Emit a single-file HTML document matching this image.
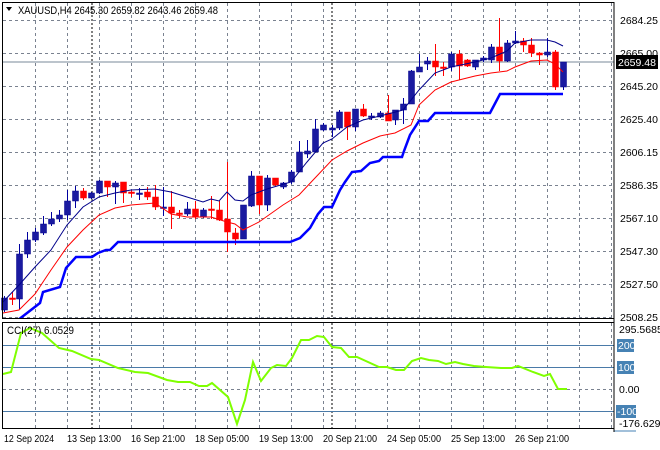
<!DOCTYPE html>
<html><head><meta charset="utf-8"><style>
body{margin:0;background:#fff;}
svg{display:block;font-family:"Liberation Sans",sans-serif;}
</style></head><body>
<svg id="s" width="660" height="450" xmlns="http://www.w3.org/2000/svg">
<rect width="660" height="450" fill="#fff"/>
<g id="grid" stroke="#7a8290" stroke-dasharray="3,3" stroke-width="1"></g>
<line x1="92" y1="3" x2="92" y2="428" stroke="#000" stroke-dasharray="2,2"/>
<line x1="332" y1="3" x2="332" y2="428" stroke="#000" stroke-dasharray="2,2"/>
<g stroke="#4a7aa8" stroke-width="1">
<line x1="3" y1="345.5" x2="614" y2="345.5"/>
<line x1="3" y1="367.5" x2="614" y2="367.5"/>
<line x1="3" y1="411.5" x2="614" y2="411.5"/>
</g>
<line x1="3" y1="389.5" x2="614" y2="389.5" stroke="#7a8290" stroke-dasharray="3,3"/>
<line x1="3" y1="62" x2="614" y2="62" stroke="#7a8a9a" stroke-width="1"/>
<g id="cdl"></g>
<polyline id="ma1" fill="none" stroke="#00008b" stroke-width="1"/>
<polyline id="ma2" fill="none" stroke="#ff0000" stroke-width="1"/>
<polyline id="ma3" fill="none" stroke="#0000ff" stroke-width="2.5"/>
<polyline id="cci" fill="none" stroke="#7fff00" stroke-width="2"/>
<rect x="0" y="318" width="660" height="4" fill="#fff"/>
<rect x="2.5" y="2.5" width="611.5" height="316" fill="none" stroke="#000"/>
<rect x="2.5" y="322.5" width="611.5" height="106" fill="none" stroke="#000"/>
<g font-size="11" fill="#000">
<text x="18" y="14" textLength="200" lengthAdjust="spacingAndGlyphs">XAUUSD,H4  2645.30 2659.82 2643.46 2659.48</text>
<path d="M6 7 L12 7 L9 11 Z" fill="#000"/>
<text x="7" y="334" textLength="67" lengthAdjust="spacingAndGlyphs">CCI(27) 6.0529</text>
</g>
<g font-size="10.5" fill="#000" id="ax">
<text x="620" y="24">2684.25</text>
<text x="620" y="57">2665.00</text>
<text x="620" y="90">2645.20</text>
<text x="620" y="123">2625.40</text>
<text x="620" y="156">2606.15</text>
<text x="620" y="189">2586.35</text>
<text x="620" y="222">2567.10</text>
<text x="620" y="255">2547.30</text>
<text x="620" y="288">2527.50</text>
<text x="620" y="321">2508.25</text>
<rect x="616" y="55" width="42" height="14" fill="#000"/>
<text x="618" y="66" fill="#fff">2659.48</text>
<text x="619" y="333">295.5685</text>
<rect x="617" y="339" width="17" height="13" fill="#4682b4"/><text x="618" y="349" fill="#fff">200</text>
<rect x="617" y="361" width="17" height="13" fill="#4682b4"/><text x="618" y="371" fill="#fff">100</text>
<text x="619" y="393">0.00</text>
<rect x="616" y="405" width="20" height="13" fill="#4682b4"/><text x="617" y="415" fill="#fff">-100</text>
<text x="619" y="427">-176.629</text>
<line x1="614" y1="431" x2="636" y2="431" stroke="#4682b4"/>
</g>
<g font-size="10.5" fill="#000" lengthAdjust="spacingAndGlyphs">
<text x="4" y="442" textLength="50" lengthAdjust="spacingAndGlyphs">12 Sep 2024</text>
<text x="67" y="442" textLength="54" lengthAdjust="spacingAndGlyphs">13 Sep 13:00</text>
<text x="131" y="442" textLength="54" lengthAdjust="spacingAndGlyphs">16 Sep 21:00</text>
<text x="195" y="442" textLength="54" lengthAdjust="spacingAndGlyphs">18 Sep 05:00</text>
<text x="259" y="442" textLength="54" lengthAdjust="spacingAndGlyphs">19 Sep 13:00</text>
<text x="323" y="442" textLength="54" lengthAdjust="spacingAndGlyphs">20 Sep 21:00</text>
<text x="387" y="442" textLength="54" lengthAdjust="spacingAndGlyphs">24 Sep 05:00</text>
<text x="451" y="442" textLength="54" lengthAdjust="spacingAndGlyphs">25 Sep 13:00</text>
<text x="515" y="442" textLength="54" lengthAdjust="spacingAndGlyphs">26 Sep 21:00</text>
</g>
<g stroke="#000"><line x1="614" y1="2" x2="614" y2="432"/></g>
</svg>
<script>
var NS="http://www.w3.org/2000/svg";
function el(p,t,a){var e=document.createElementNS(NS,t);for(var k in a)e.setAttribute(k,a[k]);p.appendChild(e);return e;}
var g=document.getElementById('grid');
for(var x=35;x<612;x+=32){el(g,'line',{x1:x+.5,y1:3,x2:x+.5,y2:318});el(g,'line',{x1:x+.5,y1:323,x2:x+.5,y2:428});}
for(var y=20;y<318;y+=33){el(g,'line',{x1:3,y1:y+.5,x2:614,y2:y+.5});}
var C=[[4,'b',298,310,296,312],[12,'r',298,298,292,305],[19,'b',254,299,244,309],[27,'b',240,254,232,258],[35,'b',232,240,228,242],[43,'b',224,233,216,235],[51,'b',219,224,212,226],[59,'b',215,219,210,222],[67,'b',201,215,190,220],[75,'b',191,201,186,208],[83,'r',191,198,188,200],[91,'b',193,198,192,199],[99,'b',181,193,180,194],[107,'r',181,187,181,197],[115,'b',183,187,181,204],[123,'r',182,193,182,203],[131,'r',192,192,190,197],[139,'b',193,193,188,200],[147,'r',192,197,187,200],[155,'r',197,207,185,210],[163,'b',207,207,187,216],[171,'r',207,213,191,229],[179,'r',213,213,210,218],[187,'b',209,214,202,216],[195,'r',209,217,201,219],[203,'b',210,217,208,218],[211,'r',209,209,196,219],[219,'r',210,220,201,221],[227,'r',219,232,162,252],[235,'r',233,239,228,245],[243,'b',205,239,205,239],[251,'b',176,206,171,207],[259,'r',176,205,176,214],[267,'b',178,205,175,211],[275,'r',178,185,178,186],[283,'b',183,187,182,189],[291,'b',172,182,170,184],[299,'b',152,172,141,172],[307,'b',151,154,140,158],[315,'b',129,152,119,152],[323,'b',125,130,123,131],[332,'b',128,130,125,137],[339,'b',112,128,110,130],[347,'r',112,127,112,140],[355,'b',109,127,109,131],[363,'r',109,116,104,117],[371,'b',116,116,113,120],[380,'b',113,117,111,118],[388,'r',113,121,95,121],[395,'b',110,120,110,125],[403,'b',104,110,98,124],[411,'b',71,104,70,104],[419,'b',67,72,54,72],[427,'b',61,64,57,70],[435,'r',61,67,44,76],[443,'r',67,67,62,76],[451,'b',54,67,52,71],[459,'r',54,66,50,80],[467,'r',60,66,59,67],[475,'b',60,67,60,70],[483,'b',58,60,56,62],[491,'b',47,60,44,63],[499,'r',47,61,18,71],[507,'b',43,61,40,62],[515,'b',41,43,31,44],[523,'r',41,45,38,52],[531,'r',45,53,38,57],[539,'r',53,55,52,65],[547,'b',52,55,38,57],[555,'r',52,87,50,90],[563,'b',62,87,62,90]];
var cg=document.getElementById('cdl');
C.forEach(function(c){var col=c[1]=='b'?'#00008b':'#ff0000';var bcol=c[1]=='b'?'#0000a0':'#ff0000';
el(cg,'line',{x1:c[0]+.5,y1:c[4],x2:c[0]+.5,y2:c[5],stroke:bcol,'stroke-width':1});
var h=Math.max(c[3]-c[2],1.5);el(cg,'rect',{x:c[0]-2.5,y:c[2],width:6,height:h,fill:c[1]=='b'?'#1a1aa0':'#ff0000',stroke:col,'stroke-width':0.5});});
function pl(id,a){document.getElementById(id).setAttribute('points',a.map(function(p){return p.join(',')}).join(' '));}
pl('ma1',[[3,302],[19,285],[35,267],[51,250],[67,225],[83,207],[99,197],[115,193],[131,190],[155,189],[171,192],[187,197],[203,202],[211,199],[219,201],[227,192],[235,200],[243,201],[251,195],[267,189],[291,182],[307,162],[323,143],[332,139],[347,127],[363,120],[380,116],[403,110],[419,90],[435,73],[451,67],[475,62],[491,58],[507,51],[515,43],[531,40],[547,40],[555,42],[563,46]]);
pl('ma2',[[3,313],[19,310],[35,294],[51,270],[67,247],[83,230],[99,215],[115,208],[131,205],[155,203],[171,214],[187,217],[211,217],[227,222],[235,224],[243,230],[259,222],[283,205],[299,195],[315,178],[332,160],[347,151],[363,143],[380,136],[395,133],[411,125],[419,105],[435,90],[451,82],[475,76],[491,73],[507,71],[515,67],[531,61],[547,60],[555,64],[563,72]]);
pl('ma3',[[18,320],[40,303],[43,292],[60,287],[66,268],[76,257],[92,257],[98,253],[106,250],[110,250],[118,242],[290,242],[300,238],[310,228],[318,214],[324,207],[332,207],[340,190],[345,182],[352,172],[361,171],[370,163],[379,161],[383,157],[402,157],[404,151],[410,135],[419,121],[428,121],[435,113],[490,113],[500,94],[563,94]]);
pl('cci',[[3,374],[11,372],[21,333],[30,328],[42,333],[59,348],[72,351],[91,359],[99,360],[118,368],[135,372],[148,373],[167,380],[178,382],[190,382],[199,386],[207,386],[212,383],[228,397],[237,424],[245,400],[253,362],[261,381],[271,368],[277,365],[286,366],[292,358],[301,340],[309,340],[317,336],[324,337],[332,347],[341,348],[349,357],[357,357],[379,367],[387,367],[396,370],[404,370],[412,361],[421,358],[429,360],[438,361],[446,364],[455,362],[463,364],[474,366],[486,367],[501,368],[512,368],[518,366],[533,372],[544,376],[550,374],[558,389],[567,389]]);
</script>
</body></html>
